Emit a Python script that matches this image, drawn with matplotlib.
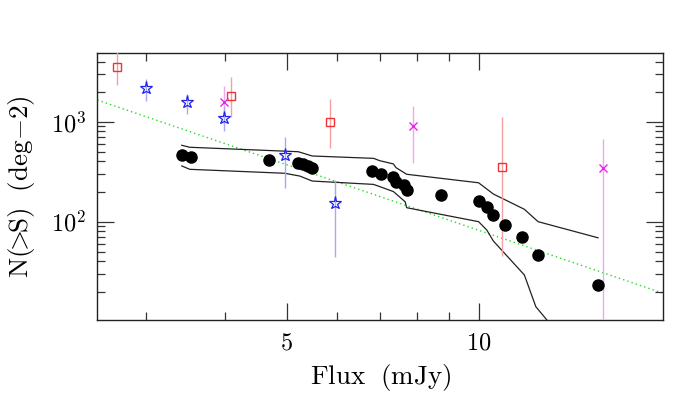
import matplotlib
matplotlib.use("Agg")
import matplotlib.pyplot as plt
from matplotlib.ticker import FixedLocator, FixedFormatter, NullFormatter
import numpy as np

plt.rcParams['mathtext.fontset'] = 'cm'
plt.rcParams['font.family'] = ['DejaVu Serif']

# Black filled circles (main sample)
circ_x = [3.42, 3.54, 4.69, 5.21, 5.30, 5.40, 5.48, 6.81, 7.03, 7.35, 7.42, 7.64, 7.71,
          8.72, 10.0, 10.3, 10.55, 11.0, 11.7, 12.4, 15.4]
circ_y = [464, 440, 414, 389, 378, 361, 344, 321, 300, 278, 251, 233, 207,
          185, 161, 139, 116, 92, 69.8, 46.4, 23.3]

# Envelope curves
up_x = [3.42, 3.52, 5.21, 5.48, 6.84, 7.0, 7.35, 7.42, 7.71, 10.0, 10.55, 11.8, 12.4, 15.4]
up_y = [581, 555, 501, 454, 430, 407, 378, 347, 298, 245, 189, 133, 100, 69]
lo_x = [3.42, 3.52, 4.96, 5.24, 5.48, 6.84, 7.0, 7.35, 7.67, 7.71, 10.0, 10.3, 10.55, 11.8, 12.3, 12.8, 13.5]
lo_y = [361, 334, 305, 286, 255, 236, 224, 200, 158, 138, 100, 82.6, 64, 29.3, 14.1, 10.4, 6.0]

# Power-law reference line (dotted green), endpoints
line_x = [2.52, 19.5]
line_y = [1648, 19.2]

# Red squares
sq_x = [2.71, 4.09, 5.85, 10.9]
sq_y = [3548, 1807, 1000, 355]
sq_lo = [2328, 1107, 550, 45.4]
sq_hi = [6000, 2780, 1687, 1122]

# Magenta crosses
cr_x = [3.98, 7.9, 15.7]
cr_y = [1585, 912, 342]
cr_lo = [1040, 389, 5.0]
cr_hi = [2290, 1445, 671]

# Blue stars
st_x = [3.0, 3.49, 3.98, 4.97, 5.95]
st_y = [2158, 1563, 1097, 468, 155]
st_lo = [1610, 1194, 813, 219, 44]
st_hi = [2655, 1892, 1450, 708, 261]

fig = plt.figure(figsize=(7.0, 3.95), dpi=100)
ax = fig.add_axes([0.139, 0.19, 0.8086, 0.675])
ax.set_xscale('log')
ax.set_yscale('log')


def err(y, lo, hi):
    y = np.array(y); lo = np.array(lo); hi = np.array(hi)
    return [y - lo, hi - y]


ax.plot(line_x, line_y, linestyle=(0, (1, 2.2)), color='#22dd22', lw=1.0, zorder=1)
ax.plot(up_x, up_y, color='#222222', lw=0.9, zorder=2)
ax.plot(lo_x, lo_y, color='#222222', lw=0.9, zorder=2)

ax.errorbar(sq_x, sq_y, yerr=err(sq_y, sq_lo, sq_hi), fmt='s', ms=6, mfc='none',
            mec='#ee3333', mew=1.0, ecolor='#f5a0a0', elinewidth=1.0, capsize=0, zorder=3)
ax.errorbar(cr_x, cr_y, yerr=err(cr_y, cr_lo, cr_hi), fmt='x', ms=6, mec='#ee22ee',
            mew=1.0, ecolor='#f0a8f0', elinewidth=1.0, capsize=0, zorder=3)
ax.errorbar(st_x, st_y, yerr=err(st_y, st_lo, st_hi), fmt='*', ms=9.5, mfc='none',
            mec='#2222ee', mew=0.9, ecolor='#a8a8f0', elinewidth=1.0, capsize=0, zorder=3)
ax.plot(circ_x, circ_y, 'o', color='black', ms=8, zorder=4)

ax.set_xlim(2.52, 19.5)
ax.set_ylim(10.4, 4830)

ax.xaxis.set_major_locator(FixedLocator([5, 10]))
ax.xaxis.set_major_formatter(FixedFormatter([r'$5$', r'$10$']))
ax.xaxis.set_minor_locator(FixedLocator([3, 4, 6, 7, 8, 9]))
ax.xaxis.set_minor_formatter(NullFormatter())

ax.yaxis.set_major_locator(FixedLocator([100, 1000]))
ax.yaxis.set_major_formatter(FixedFormatter([r'$10^2$', r'$10^3$']))
yminor = [20, 30, 40, 50, 60, 70, 80, 90, 200, 300, 400, 500, 600, 700, 800, 900, 2000, 3000, 4000]
ax.yaxis.set_minor_locator(FixedLocator(yminor))
ax.yaxis.set_minor_formatter(NullFormatter())

ax.tick_params(which='both', direction='in', top=True, right=True, color='#333333', width=0.9)
ax.tick_params(which='major', length=12.5, labelsize=17.5, pad=8)
ax.tick_params(which='minor', length=6)
for s in ax.spines.values():
    s.set_linewidth(1.0)
    s.set_color('#222222')

ax.set_xlabel(r'$\mathrm{Flux\ \ (mJy)}$', fontsize=19.5, labelpad=6)
ax.set_ylabel(r'$\mathrm{N}(\!\!>\!\!\mathrm{S})\ \ \mathrm{(deg{-}2)}$', fontsize=19.5, labelpad=10)

fig.savefig('out.png', dpi=100)
